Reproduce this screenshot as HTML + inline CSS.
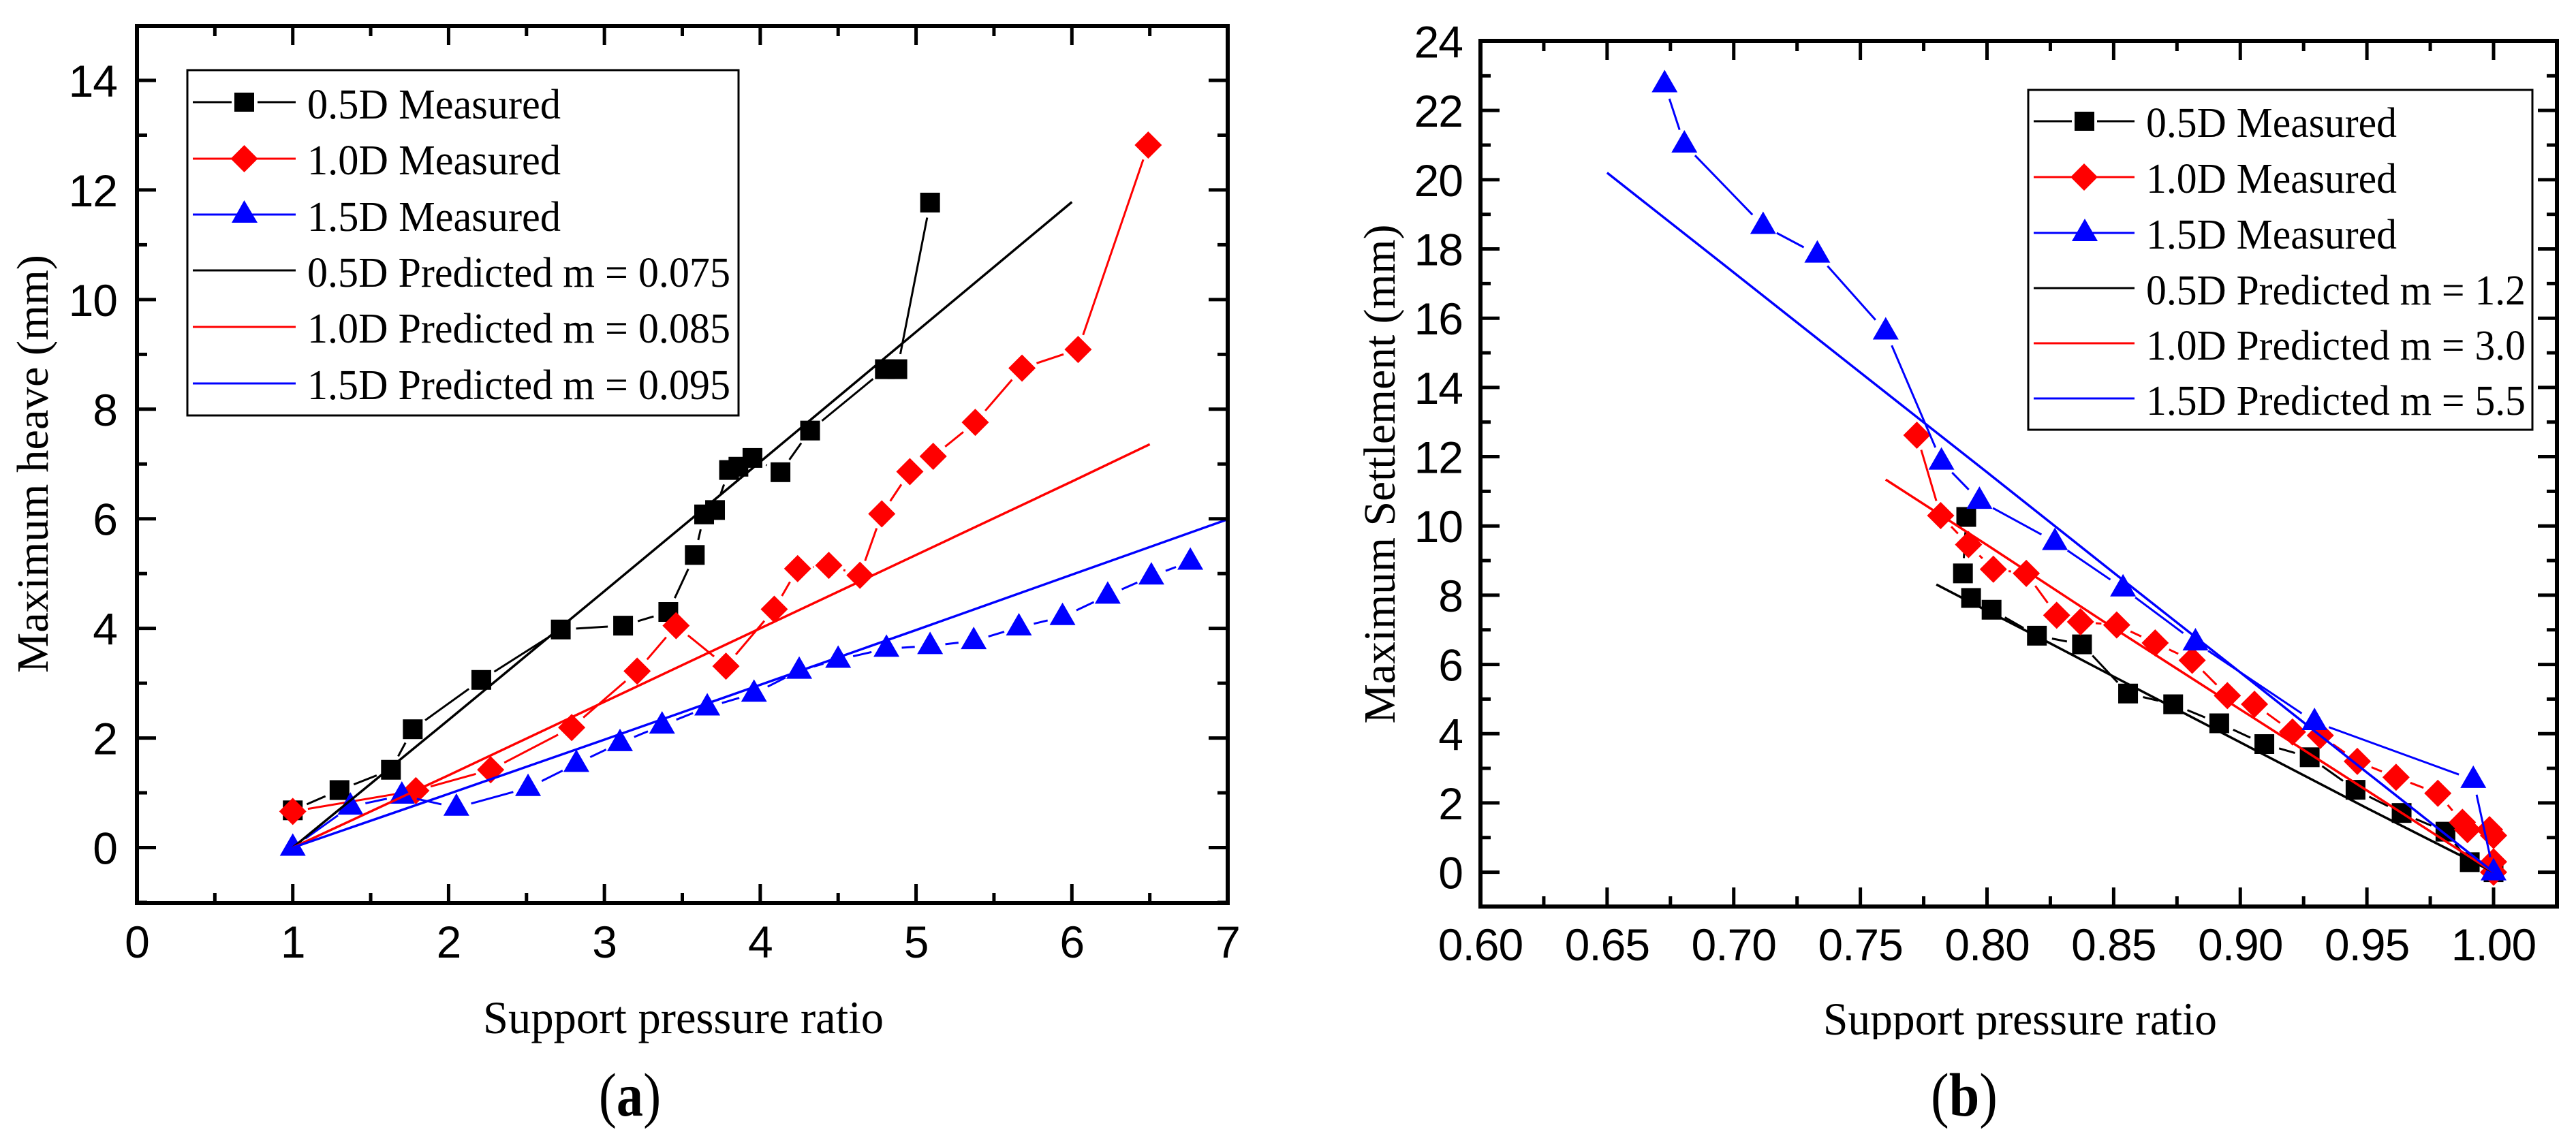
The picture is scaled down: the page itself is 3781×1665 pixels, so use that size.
<!DOCTYPE html>
<html lang="en">
<head>
<meta charset="utf-8">
<title>Maximum heave and settlement vs support pressure ratio</title>
<style>
  html, body { margin: 0; padding: 0; background: #fff; }
  svg { display: block; }
  .serif { font-family: "Liberation Serif", serif; fill: #000; }
  .sans { font-family: "Liberation Sans", sans-serif; fill: #000; }
  .leg { font-size: 62px; }
  .title { font-size: 68px; }
</style>
</head>
<body>
<svg id="figure" xmlns="http://www.w3.org/2000/svg" width="3781" height="1665" viewBox="0 0 3781 1665">
  <rect x="0" y="0" width="3781" height="1665" fill="#fff"/>

  <g id="panel-a">
    <g id="a-marks"></g>
    <g id="a-axes"></g>
    <g>
      <rect x="275" y="103" width="809" height="507" fill="#fff" stroke="#000" stroke-width="3"/>
      <g>
        <line x1="283" y1="150" x2="340" y2="150" stroke="#000" stroke-width="3"/>
        <line x1="378" y1="150" x2="434" y2="150" stroke="#000" stroke-width="3"/>
        <rect x="344" y="136" width="29" height="28" fill="#000"/>
        <text class="serif leg" x="451" y="174" textLength="372" lengthAdjust="spacingAndGlyphs">0.5D Measured</text>
      </g>
      <g>
        <line x1="283" y1="233" x2="434" y2="233" stroke="#f00" stroke-width="3"/>
        <polygon points="358.5,213 378.5,233 358.5,253 338.5,233" fill="#f00"/>
        <text class="serif leg" x="451" y="256" textLength="372" lengthAdjust="spacingAndGlyphs">1.0D Measured</text>
      </g>
      <g>
        <line x1="283" y1="315" x2="434" y2="315" stroke="#00f" stroke-width="3"/>
        <polygon points="358.5,294 378,327 340,327" fill="#00f"/>
        <text class="serif leg" x="451" y="339" textLength="372" lengthAdjust="spacingAndGlyphs">1.5D Measured</text>
      </g>
      <g>
        <line x1="283" y1="397" x2="434" y2="397" stroke="#000" stroke-width="3"/>
        <text class="serif leg" x="451" y="421" textLength="621" lengthAdjust="spacingAndGlyphs">0.5D Predicted m = 0.075</text>
      </g>
      <g>
        <line x1="283" y1="480" x2="434" y2="480" stroke="#f00" stroke-width="3"/>
        <text class="serif leg" x="451" y="503" textLength="621" lengthAdjust="spacingAndGlyphs">1.0D Predicted m = 0.085</text>
      </g>
      <g>
        <line x1="283" y1="563" x2="434" y2="563" stroke="#00f" stroke-width="3"/>
        <text class="serif leg" x="451" y="586" textLength="621" lengthAdjust="spacingAndGlyphs">1.5D Predicted m = 0.095</text>
      </g>
    </g>
    <text class="serif title" x="1003" y="1517" text-anchor="middle" textLength="588" lengthAdjust="spacingAndGlyphs">Support pressure ratio</text>
    <text class="serif" font-size="66" text-anchor="middle" textLength="614" lengthAdjust="spacingAndGlyphs" transform="translate(70 681) rotate(-90)">Maximum heave (mm)</text>
    <text class="serif" font-size="90" text-anchor="middle" transform="translate(924.5 1638) scale(0.87 1)">(<tspan font-weight="bold">a</tspan>)</text>
  </g>

  <g id="panel-b">
    <g id="b-marks"></g>
    <g id="b-axes"></g>
    <g>
      <rect x="2977" y="132" width="740" height="499" fill="#fff" stroke="#000" stroke-width="3"/>
      <g>
        <line x1="2985" y1="178" x2="3041" y2="178" stroke="#000" stroke-width="3"/>
        <line x1="3078" y1="178" x2="3133" y2="178" stroke="#000" stroke-width="3"/>
        <rect x="3045" y="164" width="29" height="28" fill="#000"/>
        <text class="serif leg" x="3150" y="201" textLength="368" lengthAdjust="spacingAndGlyphs">0.5D Measured</text>
      </g>
      <g>
        <line x1="2985" y1="260" x2="3133" y2="260" stroke="#f00" stroke-width="3"/>
        <polygon points="3059,240 3079,260 3059,280 3039,260" fill="#f00"/>
        <text class="serif leg" x="3150" y="283" textLength="368" lengthAdjust="spacingAndGlyphs">1.0D Measured</text>
      </g>
      <g>
        <line x1="2985" y1="342" x2="3133" y2="342" stroke="#00f" stroke-width="3"/>
        <polygon points="3060,321 3079,354 3041,354" fill="#00f"/>
        <text class="serif leg" x="3150" y="365" textLength="368" lengthAdjust="spacingAndGlyphs">1.5D Measured</text>
      </g>
      <g>
        <line x1="2985" y1="423" x2="3133" y2="423" stroke="#000" stroke-width="3"/>
        <text class="serif leg" x="3150" y="447" textLength="557" lengthAdjust="spacingAndGlyphs">0.5D Predicted m = 1.2</text>
      </g>
      <g>
        <line x1="2985" y1="504" x2="3133" y2="504" stroke="#f00" stroke-width="3"/>
        <text class="serif leg" x="3150" y="528" textLength="557" lengthAdjust="spacingAndGlyphs">1.0D Predicted m = 3.0</text>
      </g>
      <g>
        <line x1="2985" y1="585" x2="3133" y2="585" stroke="#00f" stroke-width="3"/>
        <text class="serif leg" x="3150" y="609" textLength="557" lengthAdjust="spacingAndGlyphs">1.5D Predicted m = 5.5</text>
      </g>
    </g>
    <text class="serif title" x="2965" y="1519" text-anchor="middle" textLength="578" lengthAdjust="spacingAndGlyphs">Support pressure ratio</text>
    <rect x="2600" y="1526" width="800" height="20" fill="#fff"/>
    <text class="serif" font-size="66" text-anchor="middle" textLength="733" lengthAdjust="spacingAndGlyphs" transform="translate(2047 696) rotate(-90)">Maximum Settlement (mm)</text>
    <text class="serif" font-size="90" text-anchor="middle" transform="translate(2883 1638) scale(0.89 1)">(<tspan font-weight="bold">b</tspan>)</text>
  </g>
</svg>

<script>
// ---- Panel (a) data ----
const aXTicks = ["0","1","2","3","4","5","6","7"];
const aYTicks = ["0","2","4","6","8","10","12","14"];
const a05MeasuredX = [1.0,1.30,1.63,1.77,2.21,2.72,3.12,3.41,3.58,3.64,3.71,3.80,3.86,3.95,4.13,4.32,4.80,4.88,5.09];
const a05MeasuredY = [0.68,1.05,1.42,2.16,3.06,3.98,4.05,4.30,5.34,6.08,6.16,6.89,6.95,7.11,6.85,7.61,8.73,8.73,11.77];
const a10MeasuredX = [1.0,1.79,2.27,2.79,3.21,3.46,3.78,4.09,4.24,4.44,4.64,4.78,4.96,5.11,5.38,5.68,6.04,6.49];
const a10MeasuredY = [0.66,1.04,1.42,2.19,3.22,4.05,3.31,4.35,5.09,5.15,4.97,6.09,6.86,7.14,7.76,8.75,9.09,12.82];
const a15MeasuredX = [1.0,1.37,1.70,2.05,2.51,2.82,3.10,3.37,3.66,3.96,4.25,4.50,4.81,5.09,5.37,5.66,5.94,6.23,6.51,6.76];
const a15MeasuredY = [0.0,0.75,0.95,0.73,1.09,1.53,1.91,2.23,2.56,2.81,3.23,3.43,3.63,3.68,3.77,4.02,4.21,4.60,4.95,5.22];
const a05PredictedX = [1.0,2.0,3.0,4.0,5.0,6.0];
const a05PredictedY = [0.0,2.33,4.68,7.04,9.41,11.78];
const a10PredictedX = [1.0,2.0,3.0,4.0,5.0,6.0,6.5];
const a10PredictedY = [0.0,1.32,2.66,4.0,5.34,6.68,7.36];
const a15PredictedX = [1.0,2.0,3.0,4.0,5.0,6.0,7.0];
const a15PredictedY = [0.0,0.98,1.97,2.97,3.97,4.98,5.99];

// ---- Panel (b) data ----
const bXTicks = ["0.60","0.65","0.70","0.75","0.80","0.85","0.90","0.95","1.00"];
const bYTicks = ["0","2","4","6","8","10","12","14","16","18","20","22","24"];
const b05MeasuredX = [1.0,0.9906,0.981,0.9637,0.9455,0.9274,0.9095,0.8917,0.8735,0.8557,0.8375,0.8197,0.8018,0.7937,0.7905,0.7918];
const b05MeasuredY = [0.0,0.29,1.17,1.71,2.38,3.32,3.70,4.30,4.85,5.16,6.58,6.83,7.58,7.92,8.63,10.26];
const b10MeasuredX = [1.0,1.0,1.0,0.9984,0.9897,0.9877,0.978,0.9615,0.9462,0.9316,0.9206,0.9056,0.8949,0.881,0.8664,0.8512,0.8369,0.8275,0.8155,0.8025,0.7927,0.7817,0.7723];
const b10MeasuredY = [0.0,0.3,1.06,1.23,1.23,1.44,2.28,2.74,3.2,3.95,4.05,4.85,5.1,6.12,6.62,7.14,7.23,7.42,8.63,8.75,9.46,10.3,12.62];
const b15MeasuredX = [1.0,0.992,0.9293,0.8823,0.8537,0.8268,0.797,0.782,0.76,0.733,0.7116,0.6805,0.6727];
const b15MeasuredY = [0.0,2.67,4.34,6.64,8.2,9.54,10.73,11.86,15.62,17.84,18.67,21.02,22.76];
const b05PredictedX = [1.0,0.95,0.9,0.85,0.82,0.8,0.78];
const b05PredictedY = [0.0,1.85,3.75,5.65,6.8,7.55,8.31];
const b10PredictedX = [1.0,0.95,0.9,0.85,0.8,0.76];
const b10PredictedY = [0.0,2.36,4.7,7.05,9.45,11.34];
const b15PredictedX = [1.0,0.95,0.9,0.85,0.8,0.75,0.7,0.65];
const b15PredictedY = [0.0,2.88,5.77,8.65,11.55,14.43,17.32,20.2];

const SVG_NS = "http://www.w3.org/2000/svg";
const MARKER_GAP = 22.5;

function linear(d0, d1, r0, r1) {
  return function (v) { return r0 + (v - d0) * (r1 - r0) / (d1 - d0); };
}
function make(tag, attrs, parent) {
  const el = document.createElementNS(SVG_NS, tag);
  for (const k in attrs) el.setAttribute(k, attrs[k]);
  parent.appendChild(el);
  return el;
}

function drawMeasured(parent, xs, ys, sx, sy, color, shape, name) {
  const g = make("g", {}, parent);
  
  
  const pts = xs.map(function (x, i) { return [sx(x), sy(ys[i])]; });
  for (let i = 0; i < pts.length - 1; i++) {
    const dx = pts[i + 1][0] - pts[i][0];
    const dy = pts[i + 1][1] - pts[i][1];
    const len = Math.hypot(dx, dy);
    if (len <= 2 * MARKER_GAP) continue;
    const ux = dx / len, uy = dy / len;
    const seg = make("line", {
      x1: pts[i][0] + ux * MARKER_GAP, y1: pts[i][1] + uy * MARKER_GAP,
      x2: pts[i + 1][0] - ux * MARKER_GAP, y2: pts[i + 1][1] - uy * MARKER_GAP,
      stroke: color, "stroke-width": 3
    }, g);
    
    
  }
  pts.forEach(function (p) {
    let m;
    if (shape === "square") {
      m = make("rect", { x: p[0] - 14.5, y: p[1] - 14.5, width: 29, height: 29, fill: color }, g);
    } else if (shape === "diamond") {
      m = make("polygon", { points: [[p[0], p[1] - 20], [p[0] + 20, p[1]], [p[0], p[1] + 20], [p[0] - 20, p[1]]].join(" "), fill: color }, g);
    } else {
      m = make("polygon", { points: [[p[0], p[1] - 21], [p[0] + 19, p[1] + 12], [p[0] - 19, p[1] + 12]].join(" "), fill: color }, g);
    }
    
    
  });
}

function drawPredicted(parent, xs, ys, sx, sy, color, name) {
  const pl = make("polyline", {
    points: xs.map(function (x, i) { return sx(x) + "," + sy(ys[i]); }).join(" "),
    fill: "none", stroke: color, "stroke-width": 3.5
  }, parent);
  
  
}

function drawAxes(parent, box, sx, sy, xMajor, xLabels, xMinor, yMajor, yLabels, yMinor, xLabelY, yLabelX) {
  const frame = make("rect", { x: box.l, y: box.t, width: box.r - box.l, height: box.b - box.t, fill: "none", stroke: "#000", "stroke-width": 6 }, parent);
  
  
  function tickX(v, len) {
    const x = sx(v);
    const a = make("line", { x1: x, y1: box.b, x2: x, y2: box.b - len, stroke: "#000", "stroke-width": 5 }, parent);
    
    
    const b = make("line", { x1: x, y1: box.t, x2: x, y2: box.t + len, stroke: "#000", "stroke-width": 5 }, parent);
    
    
  }
  function tickY(v, len) {
    const y = sy(v);
    const a = make("line", { x1: box.l, y1: y, x2: box.l + len, y2: y, stroke: "#000", "stroke-width": 5 }, parent);
    
    
    const b = make("line", { x1: box.r, y1: y, x2: box.r - len, y2: y, stroke: "#000", "stroke-width": 5 }, parent);
    
    
  }
  xMajor.forEach(function (v) { tickX(v, 28); });
  xMinor.forEach(function (v) { tickX(v, 15); });
  yMajor.forEach(function (v) { tickY(v, 28); });
  yMinor.forEach(function (v) { tickY(v, 15); });
  xLabels.forEach(function (s, i) {
    const t = make("text", { x: sx(xMajor[i]), y: xLabelY, "text-anchor": "middle", "font-size": 66, "letter-spacing": -1, class: "sans" }, parent);
    t.textContent = s;
    
    
  });
  yLabels.forEach(function (s, i) {
    const t = make("text", { x: yLabelX, y: sy(yMajor[i]) + 24, "text-anchor": "end", "font-size": 66, "letter-spacing": -1, class: "sans" }, parent);
    t.textContent = s;
    
    
  });
}

function midpoints(vals, lo, hi) {
  const step = vals[1] - vals[0];
  const out = [];
  for (let v = vals[0] - step / 2; v <= hi + 1e-9; v += step) {
    if (v >= lo - 1e-9) out.push(v);
  }
  return out;
}

// Panel (a)
const aBox = { l: 201, r: 1802, t: 38, b: 1326 };
const axS = linear(0, 7, aBox.l, aBox.r);
const ayS = linear(0, 14, 1244.5, 118);
const aMarks = document.getElementById("a-marks");
drawMeasured(aMarks, a05MeasuredX, a05MeasuredY, axS, ayS, "#000", "square", "series-0.5d-measured");
drawMeasured(aMarks, a10MeasuredX, a10MeasuredY, axS, ayS, "#f00", "diamond", "series-1.0d-measured");
drawMeasured(aMarks, a15MeasuredX, a15MeasuredY, axS, ayS, "#00f", "triangle", "series-1.5d-measured");
drawPredicted(aMarks, a05PredictedX, a05PredictedY, axS, ayS, "#000", "series-0.5d-predicted");
drawPredicted(aMarks, a10PredictedX, a10PredictedY, axS, ayS, "#f00", "series-1.0d-predicted");
drawPredicted(aMarks, a15PredictedX, a15PredictedY, axS, ayS, "#00f", "series-1.5d-predicted");
const aXv = aXTicks.map(Number);
const aYv = aYTicks.map(Number);
drawAxes(document.getElementById("a-axes"), aBox, axS, ayS,
  aXv, aXTicks, midpoints(aXv, 0, 7),
  aYv, aYTicks, midpoints(aYv, -1, 15), 1406, 172);

// Panel (b)
const bBox = { l: 2173, r: 3753, t: 60, b: 1331 };
const bxS = linear(0.6, 1.0, 2173, 3660);
const byS = linear(0, 24, 1280.6, 60.5);
const bMarks = document.getElementById("b-marks");
drawMeasured(bMarks, b05MeasuredX, b05MeasuredY, bxS, byS, "#000", "square", "series-0.5d-measured");
drawMeasured(bMarks, b10MeasuredX, b10MeasuredY, bxS, byS, "#f00", "diamond", "series-1.0d-measured");
drawMeasured(bMarks, b15MeasuredX, b15MeasuredY, bxS, byS, "#00f", "triangle", "series-1.5d-measured");
drawPredicted(bMarks, b05PredictedX, b05PredictedY, bxS, byS, "#000", "series-0.5d-predicted");
drawPredicted(bMarks, b10PredictedX, b10PredictedY, bxS, byS, "#f00", "series-1.0d-predicted");
drawPredicted(bMarks, b15PredictedX, b15PredictedY, bxS, byS, "#00f", "series-1.5d-predicted");
const bXv = bXTicks.map(Number);
const bYv = bYTicks.map(Number);
drawAxes(document.getElementById("b-axes"), bBox, bxS, byS,
  bXv, bXTicks, midpoints(bXv, 0.6, 1.025),
  bYv, bYTicks, midpoints(bYv, -1, 24), 1410, 2147);
</script>
</body>
</html>
